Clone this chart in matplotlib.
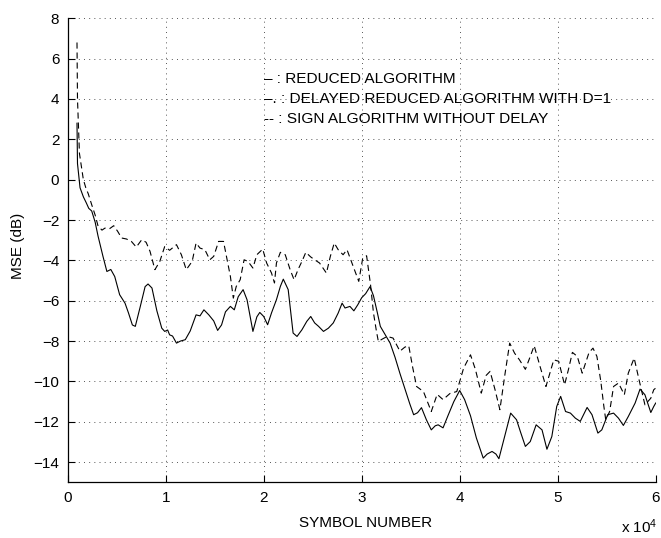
import matplotlib

matplotlib.use("Agg")
import matplotlib.pyplot as plt

plt.rcParams["font.family"] = ["Liberation Sans", "DejaVu Sans"]
plt.rcParams["mathtext.fontset"] = "custom"
plt.rcParams["mathtext.rm"] = "Liberation Sans"
plt.rcParams["mathtext.default"] = "regular"

# symbol number in units of 1e4, MSE in dB
reduced_x = [
    0.095, 0.10, 0.126, 0.16, 0.19, 0.215, 0.245, 0.28, 0.31, 0.36, 0.40, 0.44,
    0.48, 0.53, 0.585, 0.62, 0.66, 0.69, 0.74, 0.79, 0.82, 0.86, 0.91, 0.96,
    0.99, 1.02, 1.04, 1.07, 1.11, 1.15, 1.20, 1.25, 1.31, 1.35, 1.39, 1.44,
    1.49, 1.53, 1.57, 1.61, 1.66, 1.70, 1.74, 1.79, 1.83, 1.89, 1.93, 1.96,
    2.00, 2.04, 2.08, 2.13, 2.17, 2.20, 2.25, 2.30, 2.34, 2.39, 2.44, 2.48,
    2.52, 2.56, 2.61, 2.66, 2.71, 2.76, 2.80, 2.83, 2.88, 2.92, 2.96, 3.00,
    3.04, 3.085, 3.12, 3.16, 3.19, 3.23, 3.29, 3.34, 3.39, 3.45, 3.49, 3.53,
    3.57, 3.61, 3.66, 3.71, 3.75, 3.78, 3.83, 3.88, 3.94, 4.00, 4.05, 4.11,
    4.17, 4.24, 4.28, 4.33, 4.37, 4.40, 4.46, 4.52, 4.58, 4.62, 4.67, 4.72,
    4.78, 4.84, 4.89, 4.94, 4.99, 5.03, 5.08, 5.13, 5.18, 5.23, 5.30, 5.35,
    5.41, 5.45, 5.51, 5.57, 5.62, 5.67, 5.72, 5.79, 5.84, 5.89, 5.95, 5.98,
    6.00,
]
reduced_mse = [
    2.8, 0.8, -0.4, -0.85, -1.15, -1.42, -1.55, -2.1, -2.8, -3.8, -4.55, -4.45,
    -4.8, -5.7, -6.12, -6.6, -7.2, -7.27, -6.3, -5.3, -5.17, -5.37, -6.5, -7.36,
    -7.52, -7.45, -7.69, -7.75, -8.1, -8.0, -7.93, -7.5, -6.7, -6.75, -6.45, -6.7,
    -7.0, -7.47, -7.2, -6.55, -6.28, -6.45, -5.8, -5.45, -5.95, -7.52, -6.8, -6.58,
    -6.78, -7.19, -6.6, -5.95, -5.29, -4.93, -5.45, -7.6, -7.77, -7.44, -7.02, -6.78,
    -7.1, -7.27, -7.52, -7.36, -7.1, -6.61, -6.12, -6.36, -6.28, -6.5, -6.2, -5.85,
    -5.65, -5.3, -5.75, -6.6, -7.27, -7.6, -8.1, -8.8, -9.6, -10.5, -11.1, -11.65,
    -11.55, -11.3, -11.9, -12.4, -12.2, -12.15, -12.3, -11.7, -11.0, -10.45, -10.9, -11.7,
    -12.8, -13.8, -13.6, -13.47, -13.6, -13.83, -12.7, -11.57, -11.9, -12.5, -13.22, -12.98,
    -12.15, -12.4, -13.36, -12.73, -11.24, -10.74, -11.49, -11.57, -11.82, -11.98, -11.29, -11.65,
    -12.56, -12.4, -11.65, -11.57, -11.82, -12.18, -11.74, -11.07, -10.38, -10.66, -11.54, -11.24,
    -11.07,
]

sign_x = [
    0.095, 0.10, 0.12, 0.16, 0.185, 0.21, 0.245, 0.28, 0.31, 0.35, 0.38, 0.43,
    0.47, 0.51, 0.55, 0.60, 0.65, 0.70, 0.755, 0.80, 0.84, 0.89, 0.94, 0.99,
    1.04, 1.11, 1.16, 1.21, 1.27, 1.31, 1.35, 1.40, 1.45, 1.49, 1.54, 1.59,
    1.62, 1.66, 1.69, 1.72, 1.76, 1.80, 1.84, 1.89, 1.93, 1.99, 2.03, 2.08,
    2.11, 2.13, 2.17, 2.22, 2.27, 2.31, 2.35, 2.39, 2.43, 2.48, 2.52, 2.57,
    2.64, 2.68, 2.72, 2.76, 2.81, 2.85, 2.92, 2.97, 3.01, 3.05, 3.09, 3.12,
    3.15, 3.17, 3.21, 3.26, 3.32, 3.39, 3.44, 3.48, 3.52, 3.56, 3.63, 3.67,
    3.71, 3.77, 3.83, 3.90, 3.97, 4.04, 4.11, 4.16, 4.22, 4.27, 4.31, 4.36,
    4.41, 4.46, 4.51, 4.56, 4.61, 4.67, 4.72, 4.76, 4.82, 4.88, 4.96, 5.01,
    5.07, 5.11, 5.15, 5.20, 5.25, 5.32, 5.36, 5.40, 5.44, 5.47, 5.49, 5.53,
    5.57, 5.62, 5.68, 5.72, 5.78, 5.83, 5.89, 5.95, 5.98, 6.00,
]
sign_mse = [
    6.8, 4.0, 1.3, 0.0, -0.4, -0.7, -1.24, -1.75, -2.3, -2.5, -2.4, -2.42,
    -2.28, -2.56, -2.89, -2.94, -3.06, -3.34, -2.98, -3.1, -3.55, -4.46, -4.05, -3.31,
    -3.5, -3.22, -3.72, -4.46, -4.05, -3.14, -3.39, -3.47, -3.97, -3.8, -3.06, -3.06,
    -3.8, -4.79, -5.87, -5.29, -4.96, -3.97, -4.05, -4.38, -3.72, -3.44, -4.13, -4.63,
    -5.12, -4.13, -3.6, -3.72, -4.46, -4.96, -4.46, -4.05, -3.6, -3.83, -3.97, -4.13,
    -4.63, -3.8, -3.14, -3.47, -3.72, -3.47, -4.38, -5.04, -3.9, -3.77, -5.2, -6.6,
    -7.5, -8.02, -7.9, -7.77, -7.85, -8.5, -8.3, -8.23, -9.3, -10.25, -10.5, -11.0,
    -11.49, -10.64, -10.9, -10.6, -10.5, -9.34, -8.68, -9.4, -10.58, -9.7, -9.5, -10.4,
    -11.4, -9.7, -8.1, -8.6, -8.93, -9.4, -8.76, -8.23, -9.26, -10.25, -8.93, -9.0,
    -10.17, -9.4, -8.56, -8.76, -9.59, -8.56, -8.35, -8.76, -10.0, -11.2, -11.9, -11.49,
    -10.25, -10.08, -10.66, -9.59, -8.84, -9.92, -11.16, -10.83, -10.41, -10.33,
]

legend_lines = [
    "\u2013 : REDUCED ALGORITHM",
    "\u2013. : DELAYED REDUCED ALGORITHM WITH D=1",
    "-- : SIGN ALGORITHM WITHOUT DELAY",
]
legend_y = [5.0, 4.0, 3.0]

fig = plt.figure(figsize=(6.61, 5.38), dpi=100)
ax = fig.add_axes([0.1024, 0.1035, 0.8896, 0.8625])

ax.plot(reduced_x, reduced_mse, color="k", lw=0.8)
ax.plot(sign_x, sign_mse, color="k", lw=0.8, dashes=(5.5, 3.5))

for txt, y in zip(legend_lines, legend_y):
    ax.text(2.0, y, txt, fontsize=11.1, va="center", ha="left")

ax.set_xlim(0, 6)
ax.set_ylim(-15, 8)
ax.set_xticks(range(0, 7))
ax.set_yticks(range(-14, 9, 2))
ax.tick_params(direction="in", length=5, width=0.8, labelsize=11, pad=6)
ax.grid(True, color="0.25", lw=0.6, linestyle=(0, (1.2, 5)))
ax.spines["top"].set_visible(False)
ax.spines["right"].set_visible(False)
ax.spines["left"].set_linewidth(0.9)
ax.spines["bottom"].set_linewidth(0.9)

fig.text(365.5 / 661, 1 - 523.3 / 538, "SYMBOL NUMBER", ha="center", va="center", fontsize=11)
fig.text(18.3 / 661, 1 - 245.5 / 538, "MSE (dB)", rotation=90, ha="center", va="center", fontsize=11)
fig.text(657 / 661, 2 / 538, r"x 10$^{4}$", ha="right", va="bottom", fontsize=11)

fig.savefig("out.png", dpi=100)
